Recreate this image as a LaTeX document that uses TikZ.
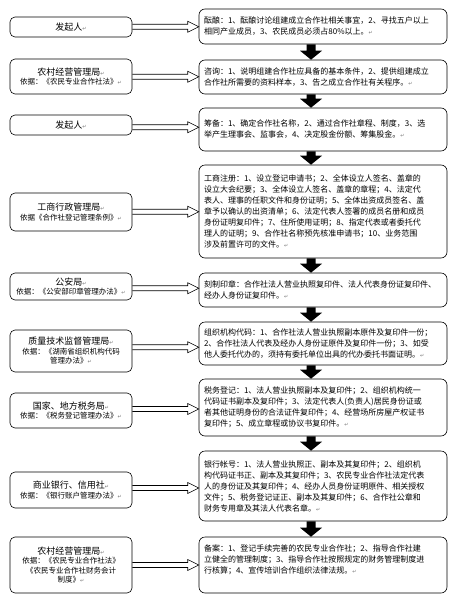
\documentclass[tikz,border=0pt]{standalone}
\usepackage{fontspec}
\setmainfont{Noto Sans CJK SC}
\newfontfamily\symfont{DejaVu Sans}
\usepackage{tikz}
\usetikzlibrary{calc}

\newcommand{\pmark}{{\symfont\color{black!55}\fontsize{5}{5}\selectfont ↵}}
\newcommand{\ttl}[1]{{\fontsize{9}{10}\selectfont #1}}
\newcommand{\hollowarrow}[2]{%
 \coordinate (mid) at ($(#1.east)!.5!(#2.west)$);
 \coordinate (tail) at (#1.east |- mid); \coordinate (tip) at (#2.west |- mid);
 \draw ($(tail)+(0,-2.5)$) -- ($(tip)+(-11,-2.5)$) -- ($(tip)+(-11,-5.5)$) -- (tip) -- ($(tip)+(-11,5.5)$) -- ($(tip)+(-11,2.5)$) -- ($(tail)+(0,2.5)$);}
\newcommand{\blockdown}[2]{%
 \coordinate (top) at ($(#1.south)+(-12,0)$); \coordinate (bot) at ($(#2.north)+(-12,0)$);
 \fill ($(top)+(-4.5,0)$) -- ($(bot)+(-4.5,-9)$) -- ($(bot)+(-11,-9)$) -- (bot) -- ($(bot)+(11,-9)$) -- ($(bot)+(4.5,-9)$) -- ($(top)+(4.5,0)$) -- cycle;}

\begin{document}
\begin{tikzpicture}[x=1pt, y=-1pt, line width=.6pt,
  lbox/.style={draw, rounded corners=5pt, inner xsep=5pt, inner ysep=2pt, text width=112pt, align=center, font=\fontsize{7.5}{9.5}\selectfont},
  rbox/.style={draw, rounded corners=6pt, inner xsep=5pt, inner ysep=2pt, text width=238pt, align=left, font=\fontsize{8}{11}\selectfont}]
\useasboundingbox (0,0) rectangle (460,600);
\node[lbox, minimum height=20] (l1) at (71,27) {\ttl{发起人}\pmark};
\node[lbox, minimum height=35] (l2) at (71,76.5) {\ttl{农村经营管理局}\pmark\\依据：《农民专业合作社法》\pmark};
\node[lbox, minimum height=20] (l3) at (71,125) {\ttl{发起人}\pmark};
\node[lbox, minimum height=38] (l4) at (71,212) {\ttl{工商行政管理局}\pmark\\依据《合作社登记管理条例》\pmark};
\node[lbox, minimum height=27] (l5) at (71,286.5) {\ttl{公安局}\pmark\\依据：《公安部印章管理办法》\pmark};
\node[lbox, minimum height=42] (l6) at (71,351) {\ttl{质量技术监督管理局}\pmark\\依据：《湖南省组织机构代码\\管理办法》\pmark};
\node[lbox, minimum height=35] (l7) at (71,410.5) {\ttl{国家、地方税务局}\pmark\\依据：《税务登记管理办法》\pmark};
\node[lbox, minimum height=36] (l8) at (71,490) {\ttl{商业银行、信用社}\pmark\\依据：《银行账户管理办法》\pmark};
\node[lbox, minimum height=56] (l9) at (71,565) {\ttl{农村经营管理局}\pmark\\依据：《农民专业合作社法》\\《农民专业合作社财务会计\\制度》\pmark};

\node[rbox, minimum height=35] (r1) at (323,26.5) {酝酿：1、酝酿讨论组建成立合作社相关事宜，2、寻找五户以上\\相同产业成员，3、农民成员必须占80\%以上。\pmark};
\node[rbox, minimum height=34] (r2) at (323,77) {咨询：1、说明组建合作社应具备的基本条件，2、提供组建成立\\合作社所需要的资料样本，3、告之成立合作社有关程序。\pmark};
\node[rbox, minimum height=43] (r3) at (323,129.5) {筹备：1、确定合作社名称，2、通过合作社章程、制度，3、选\\举产生理事会、监事会，4、决定股金份额、筹集股金。\pmark};
\node[rbox, minimum height=93] (r4) at (323,211.5) {工商注册：1、设立登记申请书；2、全体设立人签名、盖章的\\设立大会纪要；3、全体设立人签名、盖章的章程；4、法定代\\表人、理事的任职文件和身份证明；5、全体出资成员签名、盖\\章予以确认的出资清单；6、法定代表人签署的成员名册和成员\\身份证明复印件；7、住所使用证明；8、指定代表或者委托代\\理人的证明；9、合作社名称预先核准申请书；10、业务范围\\涉及前置许可的文件。\pmark};
\node[rbox, minimum height=34] (r5) at (323,290) {刻制印章：合作社法人营业执照复印件、法人代表身份证复印件、\\经办人身份证复印件。\pmark};
\node[rbox, minimum height=43] (r6) at (323,343.5) {组织机构代码：1、合作社法人营业执照副本原件及复印件一份；\\2、合作社法人代表及经办人身份证原件及复印件一份；3、如受\\他人委托代办的，须持有委托单位出具的代办委托书面证明。\pmark};
\node[rbox, minimum height=57] (r7) at (323,407.5) {税务登记：1、法人营业执照副本及复印件；2、组织机构统一\\代码证书副本及复印件；3、法定代表人(负责人)居民身份证或\\者其他证明身份的合法证件复印件；4、经营场所房屋产权证书\\复印件；5、成立章程或协议书复印件。\pmark};
\node[rbox, minimum height=70] (r8) at (323,486) {银行帐号：1、法人营业执照正、副本及其复印件；2、组织机\\构代码证书正、副本及其复印件；3、农民专业合作社法定代表\\人的身份证及其复印件；4、经办人员身份证明原件、相关授权\\文件；5、税务登记证正、副本及其复印件；6、合作社公章和\\财务专用章及其法人代表名章。\pmark};
\node[rbox, minimum height=56] (r9) at (323,565) {备案：1、登记手续完善的农民专业合作社；2、指导合作社建\\立健全的管理制度；3、指导合作社按照规定的财务管理制度进\\行核算；4、宣传培训合作组织法律法规。\pmark\\\mbox{}};

\foreach \i in {1,...,9} {\hollowarrow{l\i}{r\i}}
\foreach \i [count=\j from 2] in {1,...,8} {\blockdown{r\i}{r\j}}
\end{tikzpicture}
\end{document}
